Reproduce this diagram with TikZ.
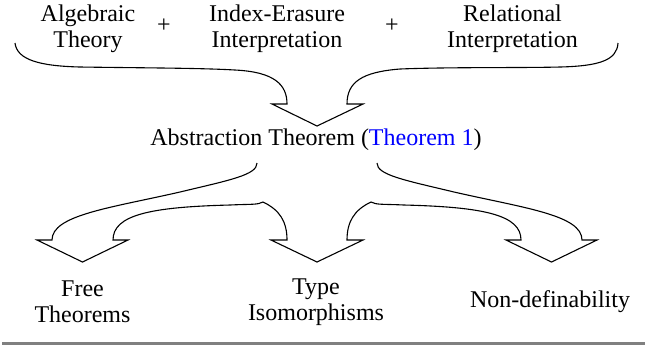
\documentclass[tikz,border=0pt]{standalone}
\usepackage{fontspec}
\newfontfamily\timesfont{Liberation Serif}
\definecolor{linkblue}{rgb}{0,0,1}
\definecolor{rulegray}{gray}{0.5}
\begin{document}
\begin{tikzpicture}[x=0.5pt,y=-0.5pt,
  every node/.style={inner sep=0pt, font=\fontsize{12}{13}\selectfont\timesfont},
  txt/.style={align=center},
  brace/.style={draw=black, line width=0.55pt, line join=miter}]
\useasboundingbox (0,0) rectangle (651,345);
% top texts
\node[txt] (alg) at (88,28.4) {Algebraic\\Theory};
\node (p1) at (164,26) {+};
\node[txt] (idx) at (277,28.4) {Index-Erasure\\Interpretation};
\node (p2) at (392,26) {+};
\node[txt] (rel) at (512.5,28.4) {Relational\\Interpretation};
% middle
\node (abs) at (316,140) {Abstraction Theorem (\textcolor{linkblue}{Theorem 1})};
% bottom
\node[txt] (free) at (82.5,302) {Free\\Theorems};
\node[txt] (iso) at (316,302) {Type\\Isomorphisms};
\node (nd) at (550,302) {Non-definability};
% top brace arrow
\draw[brace] (15,43) .. controls (17,60) and (40,66) .. (80,67)
  .. controls (150,68) and (200,68) .. (235,70)
  .. controls (275,72) and (287,85) .. (287,104)
  -- (272,104) -- (317,126) -- (363,104) -- (347,104)
  .. controls (347,82) and (362,72) .. (400,69)
  .. controls (450,67) and (520,68) .. (560,67)
  .. controls (600,66) and (617,60) .. (618,43);
% bottom braces with three arrows
\draw[brace] (257,163) .. controls (257,175) and (230,180) .. (180,192)
  .. controls (110,208) and (52,215) .. (52,240)
  -- (37,240) -- (82.5,262) -- (128,240) -- (113,240)
  .. controls (113,215) and (150,207) .. (230,205)
  .. controls (250,204) and (258,205) .. (263,202)
  .. controls (280,210) and (287,222) .. (287,240)
  -- (271,240) -- (317,262) -- (363,240) -- (347,240)
  .. controls (347,222) and (354,210) .. (371,202)
  .. controls (376,205) and (384,204) .. (404,205)
  .. controls (484,207) and (521,215) .. (521,240)
  -- (506,240) -- (551.5,262) -- (597,240) -- (582,240)
  .. controls (582,215) and (524,208) .. (454,192)
  .. controls (404,180) and (377,175) .. (377,163);
% bottom rule
\fill[rulegray] (2,342) rectangle (645,345);
\end{tikzpicture}
\end{document}
